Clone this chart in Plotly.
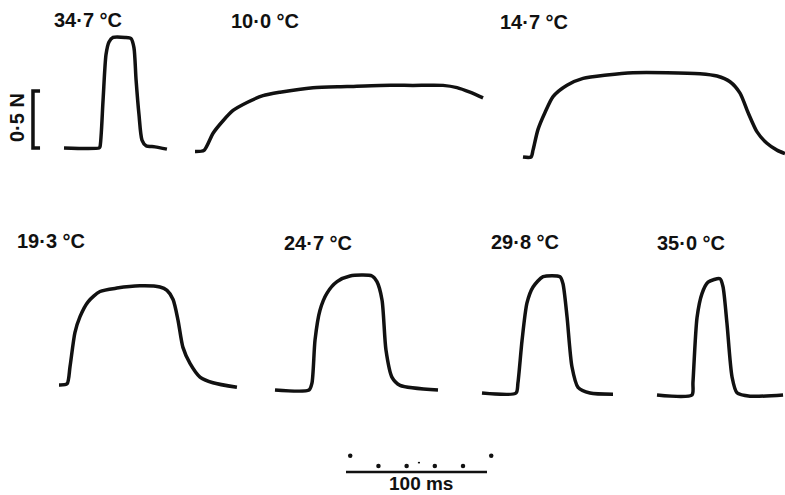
import plotly.graph_objects as go

# ---------------- data: time (ms) and force (N) for each record ----------------
labels = ["34·7 °C", "10·0 °C", "14·7 °C", "19·3 °C", "24·7 °C", "29·8 °C", "35·0 °C"]

t_347 = [0, 24.8, 25.5, 27.7, 29.8, 31.9, 34.8, 43.3, 47.5, 49.6, 51.1, 53.2, 55.3, 58.2, 64.5, 73]
f_347 = [0, 0, 0.01, 0.42, 0.82, 0.93, 0.97, 0.97, 0.96, 0.88, 0.60, 0.29, 0.07, 0.02, 0.01, -0.01]

t_100 = [0, 6.4, 12.8, 19.9, 27, 36.9, 48.2, 60.3, 83.7, 107.8, 131.2, 154.6, 175.9, 185.8, 195, 204.3]
f_100 = [0, 0.01, 0.16, 0.27, 0.36, 0.43, 0.49, 0.52, 0.56, 0.57, 0.58, 0.58, 0.58, 0.56, 0.52, 0.47]

t_147 = [0, 5.7, 7.1, 10.6, 15.6, 21.3, 31.2, 42.6, 59.6, 78, 102.1, 125.5, 137.6, 146.8, 153.9, 159.6, 166, 173, 180.1, 185.8]
f_147 = [0, 0, 0.06, 0.24, 0.39, 0.53, 0.63, 0.69, 0.72, 0.74, 0.74, 0.73, 0.71, 0.66, 0.56, 0.39, 0.22, 0.12, 0.06, 0.03]

t_193 = [0, 5.7, 7.8, 11.3, 14.9, 20.6, 29.1, 41.1, 57.4, 71.6, 76.6, 80.9, 84.4, 87.9, 92.9, 100, 109.2, 126.2]
f_193 = [0, 0.01, 0.16, 0.46, 0.60, 0.73, 0.82, 0.85, 0.87, 0.86, 0.83, 0.75, 0.57, 0.33, 0.19, 0.07, 0.02, -0.02]

t_247 = [0, 24.1, 26.2, 28.4, 31.9, 36.9, 44, 53.2, 68.8, 72.3, 75.9, 78.7, 83, 88.7, 115.6]
f_247 = [0, 0, 0.06, 0.44, 0.70, 0.85, 0.95, 1.0, 1.0, 0.95, 0.79, 0.35, 0.11, 0.04, 0]

t_298 = [0, 24.1, 25.5, 28.4, 31.9, 36.2, 43.3, 55.3, 57.4, 60.3, 63.8, 68.1, 76.6, 92.9]
f_298 = [0, 0, 0.09, 0.46, 0.79, 0.93, 1.02, 1.02, 0.96, 0.67, 0.23, 0.05, 0, -0.01]

t_350 = [0, 24.8, 25.5, 28.4, 31.9, 36.2, 44.7, 46.8, 49.6, 53.2, 56.7, 66, 89.4]
f_350 = [0, 0, 0.11, 0.68, 0.89, 0.99, 1.02, 0.95, 0.63, 0.16, 0.02, -0.01, 0]

times = [t_347, t_100, t_147, t_193, t_247, t_298, t_350]
forces = [f_347, f_100, f_147, f_193, f_247, f_298, f_350]

force_bar_N = 0.5
time_bar_ms = 100
time_tick_ms = [0, 20, 40, 60, 80, 100]

# ---------------- layout (pixel placement of each record) ----------------
W, H = 785, 495
PX_PER_MS = 1.41
PX_PER_N = 114.0
# (x of trace start, y of baseline) in page pixels, from top-left
origins = [(64, 148), (195, 151.5), (523, 157), (59, 385), (275, 390), (482, 393), (657, 395)]
label_pos = [(88, 20), (265, 21), (534, 22), (51, 241), (318, 243), (525, 242), (691, 243)]

fig = go.Figure()
layout = dict(
    width=W, height=H, margin=dict(l=0, r=0, t=0, b=0),
    paper_bgcolor="white", plot_bgcolor="rgba(0,0,0,0)",
    showlegend=False, hovermode=False,
)

for i, (t, f) in enumerate(zip(times, forces)):
    n = i + 1
    xs = "x" if n == 1 else f"x{n}"
    ys = "y" if n == 1 else f"y{n}"
    fig.add_trace(go.Scatter(
        x=t, y=f, xaxis=xs, yaxis=ys, mode="lines",
        line=dict(color="#111111", width=3.5, shape="spline", smoothing=0.7),
    ))
    x0, yb = origins[i]
    xr = [-x0 / PX_PER_MS, (W - x0) / PX_PER_MS]
    yr = [-(H - yb) / PX_PER_N, yb / PX_PER_N]
    xa = dict(range=xr, domain=[0, 1], visible=False, fixedrange=True,
              anchor=ys)
    ya = dict(range=yr, domain=[0, 1], visible=False, fixedrange=True,
              anchor=xs)
    if n > 1:
        xa["overlaying"] = "x"
        ya["overlaying"] = "y"
    layout["xaxis" if n == 1 else f"xaxis{n}"] = xa
    layout["yaxis" if n == 1 else f"yaxis{n}"] = ya

FONT = "Liberation Sans, Arial, sans-serif"
lab_font = dict(family=FONT, size=20, color="#111111", weight="bold")
annotations = []
for (cx, cy), txt in zip(label_pos, labels):
    annotations.append(dict(x=cx / W, y=1 - cy / H, xref="paper", yref="paper",
                            text=txt, showarrow=False, xanchor="center", yanchor="middle",
                            font=lab_font))
annotations.append(dict(x=17 / W, y=1 - 118 / H, xref="paper", yref="paper",
                        text="0·5 N", textangle=-90, showarrow=False,
                        xanchor="center", yanchor="middle",
                        font=dict(family=FONT, size=20, color="#111111", weight="bold")))
annotations.append(dict(x=421 / W, y=1 - 483 / H, xref="paper", yref="paper",
                        text="100 ms", showarrow=False, xanchor="center", yanchor="middle",
                        font=dict(family=FONT, size=19, color="#111111", weight="bold")))
layout["annotations"] = annotations

# force scale bracket (0.5 N) in the first record's axes
bx = -22.0
tick = 5.0
shapes = [
    dict(type="path", xref="x", yref="y",
         path=f"M {bx+tick},{force_bar_N} L {bx},{force_bar_N} L {bx},0 L {bx+tick},0",
         line=dict(color="#111111", width=3.5)),
]
# time scale bar (100 ms)
tb0 = 200.0
shapes.append(dict(type="line", xref="x", yref="paper", x0=tb0, x1=tb0 + time_bar_ms,
                   y0=1 - 472 / H, y1=1 - 472 / H, line=dict(color="#111111", width=2.5)))
layout["shapes"] = shapes

# timing dots above the bar
dot_x = [tb0 + 3 + v for v in time_tick_ms]
dot_y = [-2.70, -2.79, -2.79, -2.79, -2.79, -2.70]
fig.add_trace(go.Scatter(x=dot_x, y=dot_y, xaxis="x", yaxis="y", mode="markers",
                         marker=dict(color="#111111", size=4.5)))
fig.add_trace(go.Scatter(x=[tb0 + 51, tb0 + 52.5], y=[-2.76, -2.76], xaxis="x", yaxis="y",
                         mode="lines", line=dict(color="#111111", width=1.5)))

fig.update_layout(**layout)
fig.write_html("out.html")
